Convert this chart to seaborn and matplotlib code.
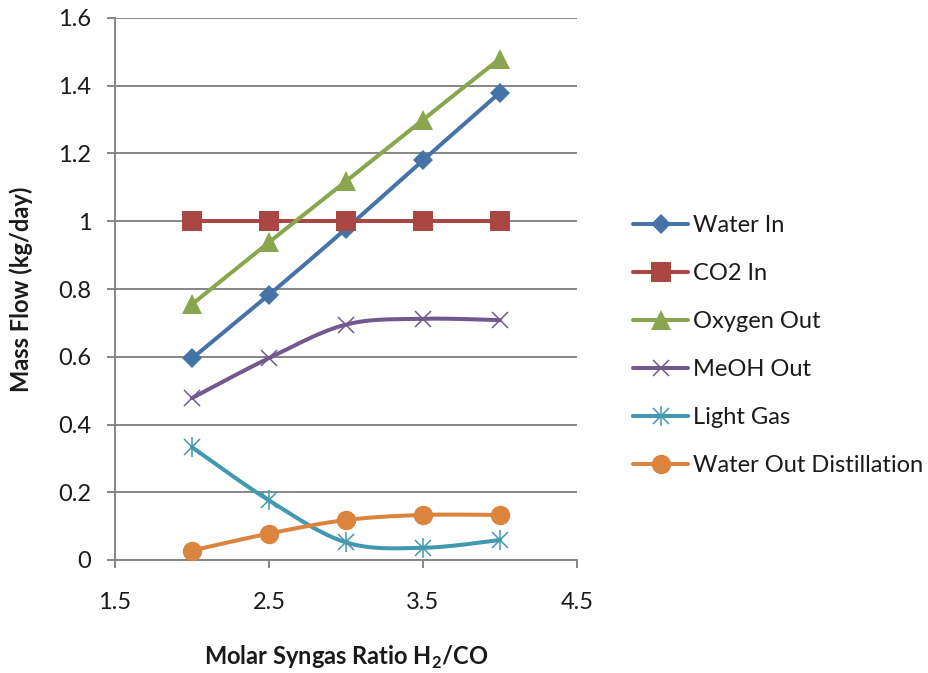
import numpy as np
import pandas as pd
import matplotlib
matplotlib.use("Agg")
import matplotlib.pyplot as plt
from matplotlib.lines import Line2D
from matplotlib.legend_handler import HandlerTuple
import seaborn as sns

# Molar syngas ratio H2/CO
ratio = [2.0, 2.5, 3.0, 3.5, 4.0]

# Mass flows in kg/day
water_in = [0.595, 0.783, 0.978, 1.180, 1.380]
co2_in = [1.0, 1.0, 1.0, 1.0, 1.0]
oxygen_out = [0.755, 0.938, 1.118, 1.300, 1.480]
meoh_out = [0.478, 0.596, 0.695, 0.712, 0.708]
light_gas = [0.333, 0.176, 0.052, 0.036, 0.059]
water_out_dist = [0.028, 0.078, 0.118, 0.133, 0.133]

series_names = ["Water In", "CO2 In", "Oxygen Out", "MeOH Out", "Light Gas",
                "Water Out Distillation"]
series_values = [water_in, co2_in, oxygen_out, meoh_out, light_gas, water_out_dist]

colors = ["#4572A7", "#AA4643", "#89A54E", "#71588F", "#4198AF", "#DB843D"]

sns.set_theme(style="white")
plt.rcParams["font.family"] = ["Lato", "DejaVu Sans"]
plt.rcParams["mathtext.fontset"] = "custom"
plt.rcParams["mathtext.rm"] = "Lato"
plt.rcParams["mathtext.bf"] = "Lato:bold"

GRAY = "#868686"
TXT = "#1a1a1a"
FS = 17


def smooth(xs, ys, n=40):
    """Bezier smoothing through the points (control points at 1/6 of neighbour chord)."""
    P = np.column_stack([xs, ys]).astype(float)
    k = len(P)
    out = [P[0]]
    t = np.linspace(0, 1, n)[1:, None]
    for i in range(k - 1):
        p0 = P[max(i - 1, 0)]
        p1 = P[i]
        p2 = P[i + 1]
        p3 = P[min(i + 2, k - 1)]
        c1 = p1 + (p2 - p0) / 6.0
        c2 = p2 - (p3 - p1) / 6.0
        seg = ((1 - t) ** 3) * p1 + 3 * ((1 - t) ** 2) * t * c1 + 3 * (1 - t) * t ** 2 * c2 + t ** 3 * p2
        out.extend(seg)
    out = np.array(out)
    return out[:, 0], out[:, 1]


fig = plt.figure(figsize=(9.29, 6.73), dpi=100)
ax = fig.add_axes([115 / 929, 1 - 560 / 673, (577 - 115) / 929, (560 - 18) / 673])

frames = []
for name, vals in zip(series_names, series_values):
    sx, sy = smooth(ratio, vals)
    frames.append(pd.DataFrame({"x": sx, "y": sy, "series": name}))
curves = pd.concat(frames, ignore_index=True)

sns.lineplot(data=curves, x="x", y="y", hue="series", hue_order=series_names,
             palette=colors, sort=False, estimator=None, units="series",
             linewidth=2.9, legend=False, ax=ax, zorder=3)

marker_specs = {
    "Water In": [dict(marker="D", ms=10, mew=0)],
    "CO2 In": [dict(marker="s", ms=14, mew=0)],
    "Oxygen Out": [dict(marker="^", ms=15, mew=0)],
    "MeOH Out": [dict(marker="x", ms=12, mew=1.1)],
    "Light Gas": [dict(marker="x", ms=11, mew=1.1), dict(marker="|", ms=14, mew=1.1)],
    "Water Out Distillation": [dict(marker="o", ms=14, mew=0)],
}

handles = []
for name, vals, c in zip(series_names, series_values, colors):
    parts = []
    for spec in marker_specs[name]:
        ax.plot(ratio, vals, linestyle="none", color=c, zorder=4, **spec)
        parts.append(Line2D([], [], color=c, linewidth=2.9, **spec))
    handles.append(tuple(parts) if len(parts) > 1 else parts[0])

ax.set_xlim(1.5, 4.5)
ax.set_ylim(0, 1.6)
ax.set_xticks([1.5, 2.5, 3.5, 4.5])
ax.set_xticklabels(["1.5", "2.5", "3.5", "4.5"])
ax.set_yticks(np.arange(0, 1.61, 0.2))
ax.set_yticklabels(["0", "0.2", "0.4", "0.6", "0.8", "1", "1.2", "1.4", "1.6"])

ax.grid(axis="y", color=GRAY, linewidth=1.4)
ax.grid(axis="x", visible=False)
ax.set_axisbelow(True)
for side in ["top", "right"]:
    ax.spines[side].set_visible(False)
for side in ["left", "bottom"]:
    ax.spines[side].set_color(GRAY)
    ax.spines[side].set_linewidth(1.4)

ax.tick_params(axis="both", colors=GRAY, labelcolor=TXT, labelsize=FS, length=6, width=1.4)
ax.tick_params(axis="y", direction="out", left=True, pad=11)
ax.tick_params(axis="x", direction="out", bottom=True, pad=17)

ax.set_xlabel(r"Molar Syngas Ratio H$_{\mathbf{2}}$/CO", fontsize=FS, fontweight="bold", color=TXT)
ax.set_ylabel("Mass Flow (kg/day)", fontsize=FS, fontweight="bold", color=TXT)
ax.xaxis.set_label_coords(0.5, -0.155)
ax.yaxis.set_label_coords(-0.177, 0.5)

fig.legend(handles, series_names, loc="center left", bbox_to_anchor=(633 / 929, 1 - 345.5 / 673),
           frameon=False, fontsize=FS, handlelength=2.35, handletextpad=0.2,
           labelspacing=1.14, borderpad=0, borderaxespad=0,
           handler_map={tuple: HandlerTuple(ndivide=1, pad=0)}, labelcolor=TXT)

fig.savefig("out.png", dpi=100, facecolor="white")
